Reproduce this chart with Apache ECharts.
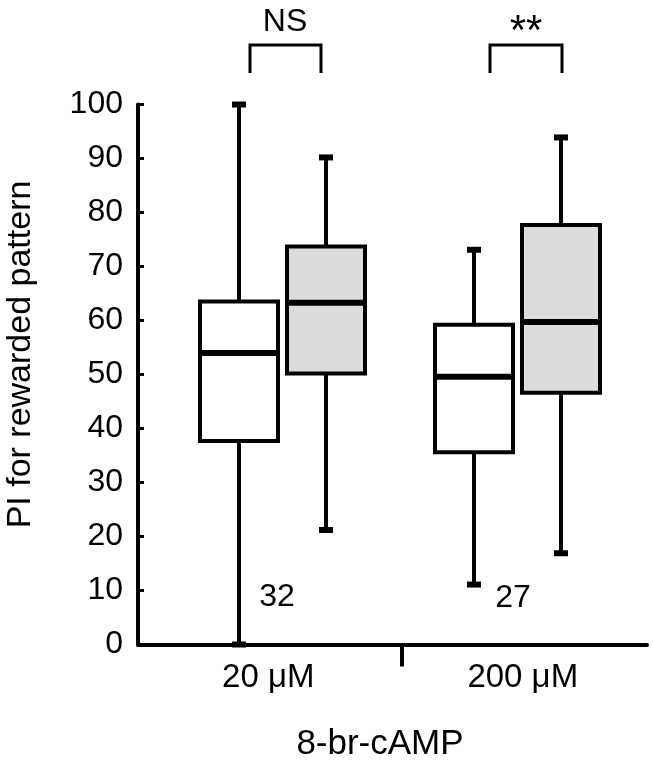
<!DOCTYPE html>
<html>
<head>
<meta charset="utf-8">
<script src="https://cdn.jsdelivr.net/npm/echarts@6/dist/echarts.min.js"></script>
<style>
html,body{margin:0;padding:0;background:#fff;}
#main{width:653px;height:766px;}
</style>
</head>
<body>
<div id="main"></div>
<script>
// ---- data ----
const categories = ['20 μM', '200 μM'];
// [min, Q1, median, Q3, max]
const controlStats = [
  [0, 37.7, 54.0, 63.5, 100],
  [11.1, 35.6, 49.6, 59.2, 73.1]
];
const treatedStats = [
  [21.2, 50.2, 63.3, 73.7, 90.2],
  [16.9, 46.6, 59.7, 77.7, 93.9]
];
const sampleSizes = ['32', '27'];
const significance = ['NS', '**'];
const yMin = 0, yMax = 100, yInterval = 10;
const yAxisTitle = 'PI for rewarded pattern';
const xAxisTitle = '8-br-cAMP';

// ---- styles ----
const FONT = 'Liberation Sans, Arial, Helvetica, sans-serif';
const FS = 32;
const BOX_W = 78;

function boxRenderer(fill) {
  return function (params, api) {
    const i = api.value(0);
    const x = api.coord([i, 0])[0];
    const yMn = api.coord([i, api.value(1)])[1];
    const yQ1 = api.coord([i, api.value(2)])[1];
    const yMd = api.coord([i, api.value(3)])[1];
    const yQ3 = api.coord([i, api.value(4)])[1];
    const yMx = api.coord([i, api.value(5)])[1];
    const hw = BOX_W / 2;
    const line = { stroke: '#000', lineWidth: 4 };
    return {
      type: 'group',
      children: [
        { type: 'line', shape: { x1: x, y1: yMx, x2: x, y2: yQ3 }, style: line },
        { type: 'line', shape: { x1: x, y1: yQ1, x2: x, y2: yMn }, style: line },
        { type: 'rect', shape: { x: x - 7, y: yMx - 3, width: 14, height: 6 }, style: { fill: '#000' } },
        { type: 'rect', shape: { x: x - 7, y: yMn - 3, width: 14, height: 6 }, style: { fill: '#000' } },
        { type: 'rect', shape: { x: x - hw, y: yQ3, width: BOX_W, height: yQ1 - yQ3 }, style: { fill: fill, stroke: '#000', lineWidth: 4 } },
        { type: 'line', shape: { x1: x - hw, y1: yMd, x2: x + hw, y2: yMd }, style: { stroke: '#000', lineWidth: 6 } }
      ]
    };
  };
}

const TOP = 104.5, HEIGHT = 540;
const hiddenY = (gi) => ({ type: 'value', gridIndex: gi, min: yMin, max: yMax, interval: yInterval, show: false, splitLine: { show: false } });
const hiddenX = (gi) => ({ type: 'category', gridIndex: gi, data: categories, show: false });

const chart = echarts.init(document.getElementById('main'), null, { renderer: 'canvas' });
chart.setOption({
  backgroundColor: '#fff',
  animation: false,
  textStyle: { fontFamily: FONT },
  grid: [
    { left: 138, top: TOP, width: 509, height: HEIGHT, outerBoundsMode: 'none', containLabel: false },      // visible axes
    { left: 121.5, top: TOP, width: 470, height: HEIGHT, outerBoundsMode: 'none', containLabel: false },    // control boxes
    { left: 208.5, top: TOP, width: 470, height: HEIGHT, outerBoundsMode: 'none', containLabel: false },    // treated boxes
    { left: 138, top: TOP, width: 1056, height: HEIGHT, outerBoundsMode: 'none', containLabel: false }      // separator tick
  ],
  xAxis: [
    {
      type: 'category', gridIndex: 0, data: categories,
      axisLine: { lineStyle: { color: '#000', width: 4 } },
      axisTick: { show: false },
      axisLabel: { color: '#000', fontSize: 33, fontFamily: FONT, margin: 17, padding: [0, 0, 0, 6] },
      name: xAxisTitle, nameLocation: 'middle', nameGap: 82,
      nameTextStyle: { color: '#000', fontSize: 35, fontFamily: FONT, padding: [0, 25, 0, 0] }
    },
    hiddenX(1),
    hiddenX(2),
    {
      type: 'category', gridIndex: 3, data: categories,
      axisLine: { show: false },
      axisTick: { show: true, alignWithLabel: true, length: 22, lineStyle: { color: '#000', width: 4 } },
      axisLabel: { show: false }
    }
  ],
  yAxis: [
    {
      type: 'value', gridIndex: 0, min: yMin, max: yMax, interval: yInterval,
      axisLine: { show: true, lineStyle: { color: '#000', width: 4 } },
      axisTick: { show: true, inside: true, length: 6, lineStyle: { color: '#000', width: 3 } },
      axisLabel: { color: '#000', fontSize: FS, fontFamily: FONT, margin: 15 },
      splitLine: { show: false },
      name: yAxisTitle, nameLocation: 'middle', nameGap: 100,
      nameTextStyle: { color: '#000', fontSize: 34, fontFamily: FONT, padding: [0, 0, 0, 40] }
    },
    hiddenY(1),
    hiddenY(2),
    hiddenY(3)
  ],
  series: [
    {
      type: 'custom', name: 'control', xAxisIndex: 1, yAxisIndex: 1,
      renderItem: boxRenderer('#ffffff'),
      encode: { x: 0, y: [1, 2, 3, 4, 5] },
      data: controlStats.map((s, i) => [i].concat(s))
    },
    {
      type: 'custom', name: 'treated', xAxisIndex: 2, yAxisIndex: 2,
      renderItem: boxRenderer('#dcdcdc'),
      encode: { x: 0, y: [1, 2, 3, 4, 5] },
      data: treatedStats.map((s, i) => [i].concat(s))
    }
  ],
  graphic: [
    { type: 'polyline', shape: { points: [[250, 73], [250, 45], [321, 45], [321, 73]] }, style: { stroke: '#000', lineWidth: 3, fill: null } },
    { type: 'polyline', shape: { points: [[490, 73], [490, 45], [562, 45], [562, 73]] }, style: { stroke: '#000', lineWidth: 3, fill: null } },
    { type: 'text', x: 285, y: 22, style: { text: significance[0], fontSize: FS, fontFamily: FONT, fill: '#000', textAlign: 'center', textVerticalAlign: 'middle' } },
    { type: 'text', x: 526, y: 32, style: { text: significance[1], fontSize: 42, fontFamily: FONT, fill: '#000', textAlign: 'center', textVerticalAlign: 'middle' } },
    { type: 'text', x: 277, y: 597, style: { text: sampleSizes[0], fontSize: FS, fontFamily: FONT, fill: '#000', textAlign: 'center', textVerticalAlign: 'middle' } },
    { type: 'text', x: 513, y: 598, style: { text: sampleSizes[1], fontSize: FS, fontFamily: FONT, fill: '#000', textAlign: 'center', textVerticalAlign: 'middle' } }
  ]
});
</script>
</body>
</html>
